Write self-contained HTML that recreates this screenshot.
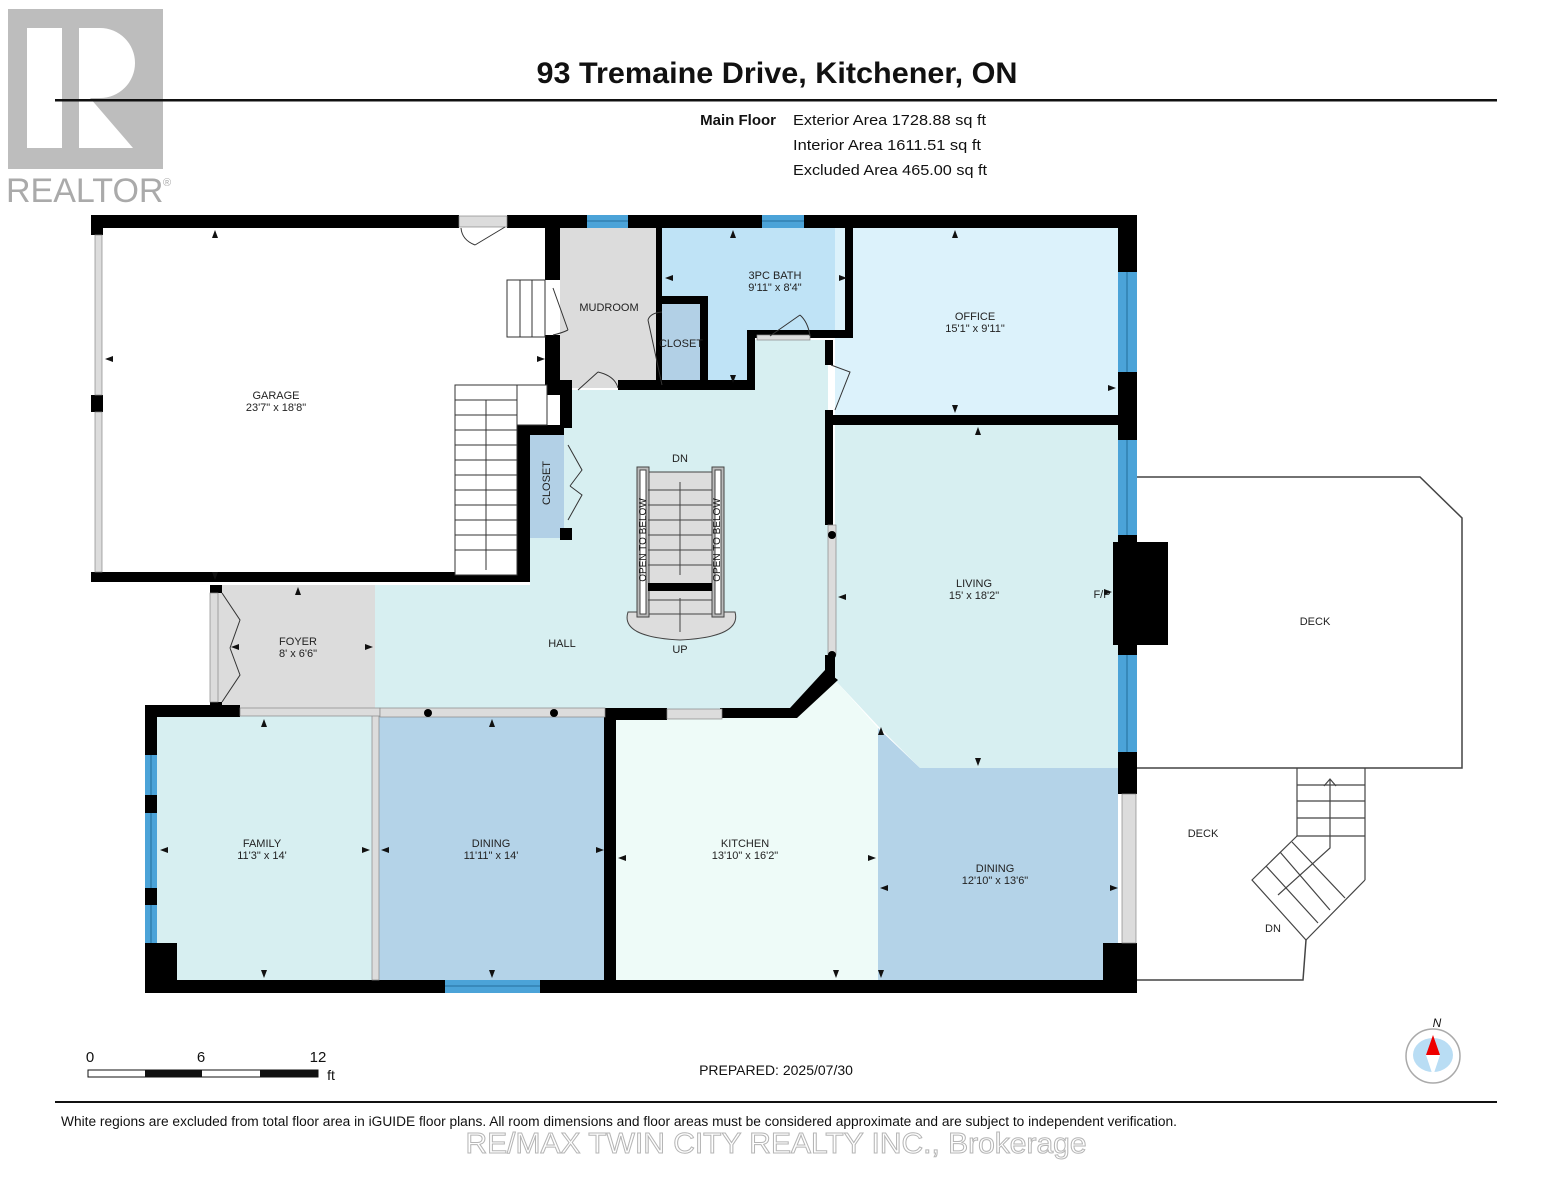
<!DOCTYPE html>
<html><head><meta charset="utf-8"><style>
body{margin:0;background:#fff;}
svg{display:block;font-family:"Liberation Sans",Arial,sans-serif;}
.t{font-size:11px;text-anchor:middle;fill:#222}
</style></head><body>
<svg width="1553" height="1200" viewBox="0 0 1553 1200" xmlns="http://www.w3.org/2000/svg">
<!-- realtor logo -->
<rect x="8" y="9" width="155" height="160" fill="#bdbdbd"/>
<rect x="27" y="28" width="35" height="120" fill="#fff"/>
<path d="M79 28 H100 A35 35 0 0 1 100 98 H90 L133 148 H79 Z" fill="#fff"/>
<text x="6" y="202" font-size="34" fill="#aaa">REALTOR</text>
<text x="163" y="186" font-size="11" fill="#aaa">®</text>
<!-- header -->
<text x="777" y="83" font-size="30" font-weight="bold" text-anchor="middle" fill="#111" textLength="481" lengthAdjust="spacingAndGlyphs">93 Tremaine Drive, Kitchener, ON</text>
<rect x="55" y="99" width="1442" height="2.5" fill="#111"/>
<text x="776" y="125" font-size="15" font-weight="bold" text-anchor="end" fill="#111">Main Floor</text>
<text x="793" y="125" font-size="15" fill="#111" textLength="193" lengthAdjust="spacingAndGlyphs">Exterior Area 1728.88 sq ft</text>
<text x="793" y="150" font-size="15" fill="#111" textLength="188" lengthAdjust="spacingAndGlyphs">Interior Area 1611.51 sq ft</text>
<text x="793" y="175" font-size="15" fill="#111" textLength="194" lengthAdjust="spacingAndGlyphs">Excluded Area 465.00 sq ft</text>

<!-- deck -->
<path d="M1137 477 H1420 L1462 518 V768 H1137" fill="#fff" stroke="#444" stroke-width="1.5"/>
<path d="M1137 980 H1303 L1306 940" fill="none" stroke="#444" stroke-width="1.5"/>
<g stroke="#444" stroke-width="1.2" fill="none">
<path d="M1297 768 V836 M1365 768 V880 M1297 785 H1365 M1297 801 H1365 M1297 818 H1365 M1297 836 H1365"/>
<path d="M1297 836 L1252 880 L1306 940 L1365 880"/>
<path d="M1266 866 L1318 923 M1280 852 L1330 910 M1292 842 L1345 898"/>
<path d="M1330 780 V848 L1278 895"/>
<path d="M1324 786 L1330 779 L1336 786"/>
</g>
<text class="t" x="1315" y="625">DECK</text>
<text class="t" x="1203" y="837">DECK</text>
<text class="t" x="1273" y="932">DN</text>

<!-- room fills -->
<rect x="560" y="228" width="96" height="160" fill="#dcdcdc"/>
<path d="M656 228 H850 V330 H755 V385 H706 V300 H662 V228 Z" fill="#bfe3f6"/>
<rect x="662" y="300" width="38" height="85" fill="#b2d0e6"/>
<rect x="835" y="228" width="283" height="190" fill="#dcf2fb"/>
<path d="M570 390 H755 V340 H828 V672 L792 712 H375 V585 H530 V425 H570 Z" fill="#d7eff1"/>
<rect x="530" y="428" width="34" height="110" fill="#b2d0e6"/>
<path d="M835 425 H1118 V768 H920 L880 728 L835 680 Z" fill="#d7eff1"/>
<path d="M878 728 L920 768 H1118 V980 H878 Z" fill="#b4d3e8"/>
<path d="M612 712 H792 L835 680 L878 728 V985 H612 Z" fill="#eefbf8"/>
<rect x="218" y="585" width="157" height="125" fill="#dcdcdc"/>
<rect x="150" y="712" width="222" height="273" fill="#d7eff1"/>
<rect x="378" y="712" width="228" height="273" fill="#b4d3e8"/>

<!-- walls -->
<g fill="#000">
<rect x="91" y="215" width="368" height="13"/>
<rect x="507" y="215" width="80" height="13"/>
<rect x="628" y="215" width="134" height="13"/>
<rect x="804" y="215" width="333" height="13"/>
<rect x="1118" y="215" width="19" height="57"/>
<rect x="1118" y="372" width="19" height="68"/>
<rect x="1118" y="535" width="19" height="120"/>
<rect x="1113" y="542" width="55" height="103"/>
<rect x="1118" y="752" width="19" height="42"/>
<rect x="1103" y="943" width="34" height="50"/>
<rect x="91" y="215" width="12" height="20"/>
<rect x="91" y="395" width="12" height="17"/>
<rect x="91" y="572" width="439" height="10"/>
<rect x="517" y="425" width="13" height="157"/>
<rect x="545" y="215" width="15" height="65"/>
<rect x="545" y="335" width="15" height="60"/>
<rect x="545" y="380" width="25" height="12"/>
<rect x="517" y="425" width="47" height="10"/>
<rect x="560" y="380" width="12" height="48"/>
<rect x="560" y="528" width="12" height="12"/>
<rect x="618" y="380" width="137" height="10"/>
<rect x="656" y="228" width="6" height="155"/>
<rect x="662" y="296" width="44" height="8"/>
<rect x="700" y="296" width="8" height="90"/>
<rect x="747" y="330" width="8" height="58"/>
<rect x="755" y="330" width="95" height="8"/>
<rect x="845" y="228" width="8" height="110"/>
<rect x="825" y="340" width="8" height="25"/>
<rect x="825" y="410" width="8" height="115"/>
<rect x="825" y="415" width="300" height="10"/>
<rect x="825" y="655" width="10" height="25"/>
<path d="M825 670 L838 680 L797 718 H720 V708 H790 Z"/>
<rect x="605" y="708" width="62" height="12"/>
<rect x="604" y="710" width="12" height="283"/>
<rect x="145" y="705" width="95" height="12"/>
<rect x="145" y="705" width="12" height="50"/>
<rect x="145" y="795" width="12" height="18"/>
<rect x="145" y="888" width="12" height="17"/>
<rect x="145" y="943" width="32" height="50"/>
<rect x="145" y="980" width="300" height="13"/>
<rect x="540" y="980" width="597" height="13"/>
<rect x="210" y="585" width="12" height="8"/>
<rect x="210" y="702" width="12" height="8"/>
</g>
<!-- thin walls / openings -->
<g fill="#dcdcdc" stroke="#888" stroke-width="0.7">
<rect x="95" y="235" width="7" height="160"/>
<rect x="95" y="412" width="7" height="160"/>
<rect x="459" y="216" width="48" height="11"/>
<rect x="828" y="525" width="8" height="130"/>
<rect x="372" y="712" width="7" height="268"/>
<rect x="240" y="708" width="140" height="8"/>
<rect x="380" y="708" width="225" height="9"/>
<rect x="667" y="709" width="55" height="10"/>
<rect x="1122" y="794" width="14" height="149"/>
<rect x="210" y="593" width="8" height="109"/>
<rect x="757" y="335" width="53" height="5"/>
</g>
<!-- windows -->
<g fill="#4ba3d8">
<rect x="587" y="215" width="41" height="13"/>
<rect x="762" y="215" width="42" height="13"/>
<rect x="1118" y="272" width="19" height="100"/>
<rect x="1118" y="440" width="19" height="95"/>
<rect x="1118" y="655" width="19" height="97"/>
<rect x="145" y="755" width="12" height="40"/>
<rect x="145" y="813" width="12" height="75"/>
<rect x="145" y="905" width="12" height="38"/>
<rect x="445" y="980" width="95" height="13"/>
</g>
<g stroke="#1a5f8a" stroke-width="0.8">
<path d="M1127 272 V372 M1127 440 V535 M1127 655 V752 M151 755 V795 M151 813 V888 M151 905 V943 M445 986 H540 M587 221 H628 M762 221 H804"/>
</g>
<circle cx="832" cy="535" r="4" fill="#000"/><circle cx="832" cy="655" r="4" fill="#000"/>
<circle cx="428" cy="713" r="4" fill="#000"/><circle cx="554" cy="713" r="4" fill="#000"/>

<!-- garage stairs -->
<g stroke="#333" stroke-width="1" fill="#fff">
<rect x="507" y="280" width="38" height="57"/>
<path d="M520 280 V337 M532 280 V337"/>
<rect x="455" y="385" width="62" height="190"/>
<path d="M455 400 H517 M455 415 H517 M455 430 H517 M455 445 H517 M455 460 H517 M455 475 H517 M455 490 H517 M455 505 H517 M455 520 H517 M455 535 H517 M455 550 H517 M486 400 V570" fill="none"/>
<rect x="517" y="385" width="30" height="40"/>
</g>
<!-- center stairs -->
<g stroke="#444" stroke-width="1" fill="#ddd">
<path d="M628 612 Q620 637 680 640 Q742 637 735 612 Z" fill="#ddd"/>
<rect x="648" y="472" width="64" height="142"/>
<rect x="637" y="467" width="12" height="150" fill="#bbb"/>
<rect x="712" y="467" width="12" height="150" fill="#bbb"/>
<rect x="640" y="470" width="6" height="144" fill="#fff"/>
<rect x="715" y="470" width="6" height="144" fill="#fff"/>
<path d="M648 490 H712 M648 505 H712 M648 520 H712 M648 535 H712 M648 550 H712 M648 565 H712 M648 600 H712 M680 482 V575 M680 632 V598" fill="none"/>
</g>
<rect x="648" y="583" width="64" height="8" fill="#000"/>
<g font-size="10" fill="#111" text-anchor="middle">
<text transform="translate(646 540) rotate(-90)">OPEN TO BELOW</text>
<text transform="translate(720 540) rotate(-90)">OPEN TO BELOW</text>
</g>
<!-- doors -->
<g stroke="#333" stroke-width="1" fill="none">
<path d="M505 227 L475 245 M461 228 Q462 240 475 245"/>
<path d="M553 288 L568 330 M553 335 Q562 333 568 330"/>
<path d="M578 390 L598 372 M618 388 Q615 376 598 372"/>
<path d="M662 385 L648 320 M662 312 Q650 313 648 320"/>
<path d="M770 336 L800 315 M810 336 Q808 322 800 315"/>
<path d="M831 365 L850 372 L835 410"/>
<path d="M568 445 L582 470 L570 486 M568 520 L582 495 L570 486"/>
<path d="M222 593 L240 620 L230 648 M222 702 L240 675 L230 648"/>
</g>

<!-- labels -->
<text class="t" x="276" y="399">GARAGE</text><text class="t" x="276" y="411">23'7" x 18'8"</text>
<text class="t" x="609" y="311">MUDROOM</text>
<text class="t" x="681" y="347" font-size="9">CLOSET</text>
<text class="t" x="775" y="279">3PC BATH</text><text class="t" x="775" y="291">9'11" x 8'4"</text>
<text class="t" x="975" y="320">OFFICE</text><text class="t" x="975" y="332">15'1" x 9'11"</text>
<text class="t" x="680" y="462">DN</text>
<text class="t" x="680" y="653">UP</text>
<text class="t" x="562" y="647">HALL</text>
<text class="t" x="974" y="587">LIVING</text><text class="t" x="974" y="599">15' x 18'2"</text>
<text class="t" x="1102" y="598">F/P</text>
<text class="t" x="298" y="645">FOYER</text><text class="t" x="298" y="657">8' x 6'6"</text>
<text class="t" x="262" y="847">FAMILY</text><text class="t" x="262" y="859">11'3" x 14'</text>
<text class="t" x="491" y="847">DINING</text><text class="t" x="491" y="859">11'11" x 14'</text>
<text class="t" x="745" y="847">KITCHEN</text><text class="t" x="745" y="859">13'10" x 16'2"</text>
<text class="t" x="995" y="872">DINING</text><text class="t" x="995" y="884">12'10" x 13'6"</text>
<text transform="translate(550 483) rotate(-90)" font-size="11" text-anchor="middle" fill="#222">CLOSET</text>

<!-- dimension arrowheads -->
<g fill="#111">
<path d="M215 230 l-3 8 h6 Z M215 580 l-3 -8 h6 Z M105 359 l8 -3 v6 Z M545 359 l-8 -3 v6 Z"/>
<path d="M733 230 l-3 8 h6 Z M733 383 l-3 -8 h6 Z M665 278 l8 -3 v6 Z M847 278 l-8 -3 v6 Z"/>
<path d="M955 230 l-3 8 h6 Z M955 413 l-3 -8 h6 Z M1116 388 l-8 -3 v6 Z"/>
<path d="M978 427 l-3 8 h6 Z M978 766 l-3 -8 h6 Z M838 597 l8 -3 v6 Z M1112 592 l-8 -3 v6 Z"/>
<path d="M298 587 l-3 8 h6 Z M373 647 l-8 -3 v6 Z M231 647 l8 -3 v6 Z"/>
<path d="M264 719 l-3 8 h6 Z M264 978 l-3 -8 h6 Z M160 850 l8 -3 v6 Z M370 850 l-8 -3 v6 Z"/>
<path d="M492 719 l-3 8 h6 Z M492 978 l-3 -8 h6 Z M381 850 l8 -3 v6 Z M604 850 l-8 -3 v6 Z"/>
<path d="M618 858 l8 -3 v6 Z M876 858 l-8 -3 v6 Z M836 978 l-3 -8 h6 Z"/>
<path d="M881 727 l-3 8 h6 Z M881 978 l-3 -8 h6 Z M880 888 l8 -3 v6 Z M1118 888 l-8 -3 v6 Z"/>
</g>

<!-- scale & compass -->
<g font-size="15" fill="#111" text-anchor="middle">
<text x="90" y="1062">0</text><text x="201" y="1062">6</text><text x="318" y="1062">12</text>
<text x="331" y="1080" font-size="14">ft</text>
</g>
<rect x="88" y="1070" width="230" height="7" fill="#fff" stroke="#111" stroke-width="1"/>
<rect x="145" y="1070" width="57" height="7" fill="#111"/>
<rect x="260" y="1070" width="58" height="7" fill="#111"/>
<text x="776" y="1075" font-size="14" text-anchor="middle" fill="#111">PREPARED: 2025/07/30</text>
<circle cx="1433" cy="1056" r="27" fill="#fff" stroke="#aaa" stroke-width="1.5"/>
<ellipse cx="1433" cy="1055" rx="20" ry="17" fill="#b9ddf4"/>
<path d="M1433 1035 L1426 1055 H1440 Z" fill="#e00"/>
<path d="M1426 1055 L1433 1076 L1440 1055 Z" fill="#fff"/>
<text x="1437" y="1027" font-size="12" text-anchor="middle" fill="#111" font-style="italic">N</text>

<!-- footer -->
<rect x="55" y="1101" width="1442" height="2" fill="#111"/>
<text x="61" y="1126" font-size="13.5" fill="#111" textLength="1116" lengthAdjust="spacingAndGlyphs">White regions are excluded from total floor area in iGUIDE floor plans. All room dimensions and floor areas must be considered approximate and are subject to independent verification.</text>
<text x="776" y="1153" font-size="29" text-anchor="middle" fill="#fff" stroke="#b5b5b5" stroke-width="1" textLength="621" lengthAdjust="spacingAndGlyphs">RE/MAX TWIN CITY REALTY INC., Brokerage</text>
</svg>
</body></html>
